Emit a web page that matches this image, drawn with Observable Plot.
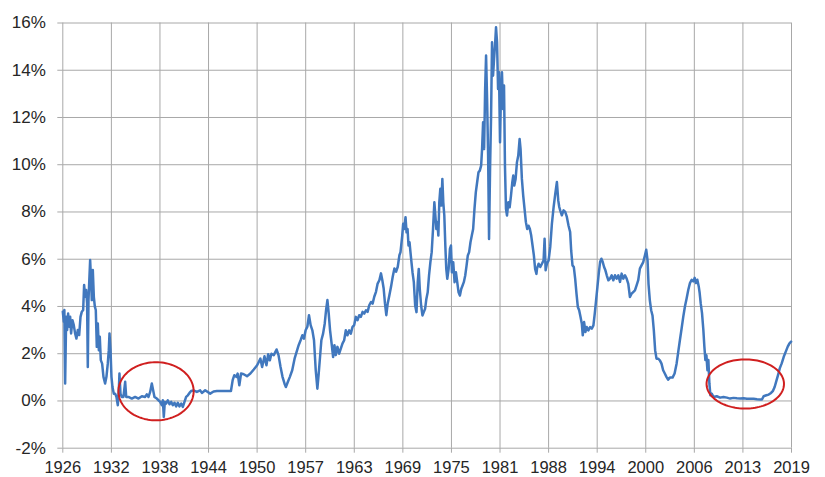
<!DOCTYPE html>
<html>
<head>
<meta charset="utf-8">
<script src="https://cdn.jsdelivr.net/npm/d3@7"></script>
<script src="https://cdn.jsdelivr.net/npm/@observablehq/plot@0.6"></script>
<style>
  html, body { margin: 0; padding: 0; background: #fff; }
  #chart { width: 825px; height: 477px; }
</style>
</head>
<body>
<div id="chart"></div>
<script>
// ---- Data (fractional year, yield in %) ----
const years = [
1926.0,1926.13,1926.2,1926.3,1926.43,1926.55,1926.68,1926.8,1926.94,1927.06,1927.23,1927.4,1927.57,1927.74,1927.91,1928.09,1928.26,1928.43,1928.6,1928.72,1928.85,1928.98,1929.1,1929.19,1929.28,1929.4,1929.49,1929.62,1929.7,1929.83,1929.96,1930.09,1930.21,1930.34,1930.47,1930.6,1930.72,1930.85,1931.02,1931.19,1931.4,1931.57,1931.74,1931.87,1931.96,1932.09,1932.21,1932.34,1932.51,1932.68,1932.85,1933.02,1933.15,1933.23,1933.36,1933.53,1933.74,1933.96,1934.09,1934.38,1934.81,1935.23,1935.66,1936.09,1936.51,1936.72,1936.94,1937.15,1937.36,1937.53,1937.7,1938.0,1938.21,1938.43,1938.64,1938.77,1938.89,1939.02,1939.19,1939.4,1939.62,1939.83,1940.04,1940.26,1940.47,1940.68,1940.89,1941.11,1941.32,1941.53,1941.74,1941.96,1942.17,1942.38,1942.68,1943.11,1943.53,
1943.75,1944.17,1944.81,1945.24,1945.67,1946.1,1946.74,1947.46,1947.68,1947.89,1948.15,1948.32,1948.53,1948.75,1949.09,1949.51,1949.94,1950.37,1950.8,1951.01,1951.22,1951.44,1951.74,1951.99,1952.21,1952.42,1952.63,1952.93,1953.28,1953.53,1953.79,1954.04,1954.3,1954.47,1954.73,1954.98,1955.28,1955.58,1955.84,1956.1,1956.35,1956.57,1956.78,1956.99,1957.21,1957.42,1957.63,1957.85,1958.06,1958.28,1958.49,1958.66,1958.83,1959.0,1959.22,1959.43,1959.6,1959.77,1959.94,1960.11,1960.33,1960.5,1960.67,1960.84,1961.05,1961.27,1961.48,1961.69,1961.91,1962.12,1962.33,1962.55,1962.76,1962.98,1963.19,1963.4,1963.62,1963.83,1964.04,1964.26,1964.47,1964.69,1964.9,1965.11,1965.33,1965.54,1965.75,1965.97,1966.18,1966.4,1966.61,1966.78,1966.95,1967.12,1967.29,1967.46,1967.68,1967.89,1968.1,1968.32,1968.53,1968.75,1968.96,
1969.1,1969.32,1969.44,1969.57,1969.74,1969.87,1970.0,1970.12,1970.25,1970.37,1970.5,1970.63,1970.8,1970.97,1971.14,1971.3,1971.43,1971.56,1971.73,1971.9,1972.07,1972.24,1972.4,1972.57,1972.74,1972.91,1973.08,1973.25,1973.42,1973.55,1973.67,1973.8,1973.93,1974.05,1974.18,1974.31,1974.44,1974.56,1974.69,1974.82,1974.94,1975.07,1975.24,1975.41,1975.54,1975.66,1975.83,1976.0,1976.17,1976.34,1976.51,1976.68,1976.85,1977.02,1977.18,1977.36,1977.53,1977.69,1977.86,1978.03,1978.2,1978.37,1978.54,1978.71,1978.88,1979.05,1979.22,1979.39,1979.51,1979.64,1979.77,1979.9,1980.02,1980.15,1980.28,1980.4,1980.53,1980.66,1980.78,1980.91,1981.04,1981.16,1981.29,1981.42,1981.55,1981.67,1981.8,1981.93,1982.05,1982.18,1982.31,1982.43,1982.56,1982.69,1982.86,1983.03,1983.2,1983.37,1983.49,1983.62,1983.79,1983.96,1984.13,1984.3,1984.42,1984.59,1984.76,1984.93,1985.1,1985.27,1985.44,1985.61,1985.78,1985.95,1986.12,1986.28,1986.45,
1986.52,1986.73,1986.94,1987.15,1987.36,1987.49,1987.62,1987.79,1988.0,1988.21,1988.42,1988.64,1988.85,1989.06,1989.23,1989.36,1989.48,1989.69,1989.91,1990.12,1990.33,1990.54,1990.75,1990.88,1991.05,1991.22,1991.39,1991.56,1991.73,1991.9,1992.07,1992.24,1992.36,1992.53,1992.7,1992.87,1993.08,1993.3,1993.51,1993.72,1993.89,1994.06,1994.23,1994.4,1994.57,1994.74,1994.91,1995.08,1995.25,1995.42,1995.63,1995.84,1996.05,1996.26,1996.47,1996.69,1996.9,1997.11,1997.32,1997.53,1997.75,1997.96,1998.17,1998.38,1998.59,1998.8,1999.02,1999.23,1999.44,1999.65,1999.86,2000.08,2000.29,2000.46,2000.63,2000.75,2000.92,2001.09,2001.26,2001.43,2001.6,2001.77,2001.98,2002.2,2002.41,2002.62,2002.83,2003.04,2003.25,
2003.48,2003.82,2004.08,2004.34,2004.55,2004.76,2004.98,2005.19,2005.4,2005.62,2005.83,2006.04,2006.26,2006.47,2006.64,2006.81,2006.98,2007.16,2007.28,2007.41,2007.58,2007.75,2007.88,2008.01,2008.14,2008.27,2008.39,2008.52,2008.65,2008.82,2009.04,2009.46,2009.89,2010.32,2010.75,2011.17,2011.6,2012.03,2012.46,2012.88,2013.31,2013.74,2014.16,2014.59,2015.02,2015.23,2015.44,2015.79,2016.09,2016.39,2016.64,2016.86,2017.07,2017.28,2017.5,2017.75,2018.01,2018.27,2018.52,2018.74,2018.95
];
const yields = [
3.78,3.35,3.85,0.74,3.56,3.0,3.7,3.14,3.56,2.86,3.42,3.21,2.86,2.64,3.0,2.79,3.56,3.78,3.85,4.91,4.41,4.7,4.13,1.44,4.27,5.26,5.97,4.98,4.27,5.54,4.41,3.99,3.85,2.29,3.28,2.15,2.72,1.73,1.58,1.02,0.74,1.02,1.58,2.15,2.86,2.15,1.02,0.59,0.31,0.31,0.17,-0.18,0.45,1.16,0.31,0.17,0.17,0.81,0.17,0.17,0.1,0.17,0.1,0.2,0.17,0.28,0.17,0.38,0.74,0.45,0.17,0.1,0.03,-0.04,-0.18,0.03,-0.68,-0.04,-0.11,0.03,-0.14,-0.04,-0.18,-0.08,-0.23,-0.08,-0.23,-0.11,-0.25,-0.04,0.17,0.24,0.34,0.42,0.45,0.38,0.45,
0.34,0.45,0.31,0.40,0.42,0.42,0.42,0.42,0.88,1.09,1.02,1.16,0.66,1.16,1.13,1.05,1.16,1.33,1.51,1.65,1.79,1.44,1.89,1.51,1.98,1.72,2.0,1.94,2.18,1.94,1.44,1.02,0.73,0.59,0.81,1.02,1.3,1.79,2.08,2.36,2.57,2.78,2.64,2.99,3.14,3.63,3.21,2.99,2.57,1.3,0.52,1.16,1.86,2.57,2.85,3.28,3.84,4.27,3.7,2.99,2.36,1.86,2.36,1.94,2.29,2.0,2.22,2.43,2.57,2.99,2.78,2.99,2.85,3.14,3.21,3.56,3.42,3.63,3.56,3.77,3.7,3.84,3.77,4.05,4.19,4.12,4.41,4.62,4.97,5.11,5.4,5.11,4.76,4.12,3.63,4.12,4.48,4.83,5.25,5.61,5.47,5.68,6.17,
6.3,7.0,7.5,7.28,7.78,7.14,7.28,6.58,6.72,6.3,5.87,5.45,5.03,4.04,3.76,5.03,5.59,4.74,4.04,3.62,3.76,3.9,4.32,4.6,5.31,5.87,6.3,7.28,8.41,7.85,7.28,7.57,7.0,8.41,8.98,8.27,9.4,8.41,7.85,6.58,5.59,5.17,5.59,6.44,6.58,5.45,5.87,5.03,5.45,5.03,4.6,4.46,4.74,4.89,5.03,5.31,5.73,6.16,6.3,6.72,7.0,7.28,8.13,8.83,9.26,9.68,9.75,9.96,10.67,11.8,10.67,13.21,14.62,12.78,10.39,6.86,9.82,12.08,15.18,13.77,14.48,15.04,15.82,15.18,13.21,13.91,10.95,13.21,13.91,12.36,13.35,9.96,8.13,7.85,8.41,8.2,8.69,9.26,9.54,9.12,9.4,10.1,10.39,11.09,10.67,9.4,8.69,8.13,7.57,7.28,7.42,7.28,7.0,6.58,6.16,5.59,5.38,
5.6,5.81,5.67,5.81,5.95,6.87,5.53,5.81,5.95,6.52,7.5,8.21,8.77,9.27,8.49,8.21,8.07,7.86,8.07,8.0,7.79,7.43,7.15,6.37,5.74,5.67,5.18,4.54,3.98,3.84,3.56,3.27,2.78,3.34,2.92,3.13,2.99,3.13,3.06,3.2,3.7,4.26,4.82,5.39,5.88,6.02,5.88,5.67,5.53,5.32,5.11,5.18,5.32,5.11,5.32,5.18,5.32,5.04,5.39,5.18,5.32,5.18,4.96,4.4,4.54,4.61,4.68,4.89,5.11,5.6,5.74,5.88,6.16,6.4,5.95,4.96,4.26,3.84,3.62,2.99,2.14,1.79,1.79,1.72,1.58,1.3,1.16,1.02,0.9,
0.99,0.99,1.16,1.59,2.09,2.58,3.08,3.57,4.0,4.35,4.71,4.99,5.13,5.06,5.21,4.99,5.13,4.85,4.57,4.14,3.72,3.01,2.3,1.73,1.94,1.3,1.73,0.74,0.24,0.31,0.17,0.2,0.14,0.17,0.14,0.1,0.13,0.11,0.1,0.11,0.09,0.09,0.09,0.07,0.06,0.06,0.2,0.24,0.27,0.34,0.43,0.6,0.85,1.09,1.38,1.59,1.87,2.09,2.3,2.44,2.51
];

// Axis tick labels (evenly spaced category-style labels)
const xTickLabels = ["1926","1932","1938","1944","1950","1957","1963","1969","1975","1981","1988","1994","2000","2006","2013","2019"];
const yTicks = [-2, 0, 2, 4, 6, 8, 10, 12, 14, 16];

// Highlight ellipses (centre year, centre %, radius in years, radius in %)
const highlightYear = [1937.9, 2013.1];
const highlightValue = [0.41, 0.72];
const highlightRx = [4.8, 4.94];
const highlightRy = [1.23, 1.04];

// ---- Build tables ----
const series = years.map((y, i) => ({year: y, value: yields[i]}));
const x0 = 1926, x1 = 2019;
const step = (x1 - x0) / (xTickLabels.length - 1);
const xTicks = xTickLabels.map((_, i) => x0 + i * step);
const labelFor = d => xTickLabels[Math.round((d - x0) / step)];

const ellipsePts = [];
highlightYear.forEach((cx, k) => {
  d3.range(0, 361, 3).forEach(a => {
    const t = a * Math.PI / 180;
    ellipsePts.push({id: k, year: cx + highlightRx[k] * Math.cos(t), value: highlightValue[k] + highlightRy[k] * Math.sin(t)});
  });
});

const gridColor = "#a8a8a8";

const chart = Plot.plot({
  width: 825,
  height: 477,
  marginLeft: 62.3,
  marginRight: 34,
  marginTop: 22.5,
  marginBottom: 29.3,
  style: {fontFamily: "'Liberation Sans', Arial, sans-serif", fontSize: "17px", color: "#262626", background: "#fff", overflow: "visible"},
  x: {domain: [x0, x1]},
  y: {domain: [-2, 16]},
  marks: [
    Plot.gridX(xTicks, {stroke: gridColor, strokeOpacity: 1, strokeWidth: 1}),
    Plot.gridY(yTicks, {stroke: gridColor, strokeOpacity: 1, strokeWidth: 1}),
    Plot.axisX(xTicks, {tickSize: 5, tickPadding: 8, stroke: gridColor, fill: "#262626", fontSize: 16.5, tickFormat: labelFor, label: null}),
    Plot.axisY(yTicks, {tickSize: 5, tickPadding: 12, stroke: gridColor, fill: "#262626", fontSize: 17, tickFormat: d => `${d}%`, label: null}),
    Plot.line(series, {x: "year", y: "value", stroke: "#4178be", strokeWidth: 2.5, strokeLinejoin: "round"}),
    Plot.line(ellipsePts, {x: "year", y: "value", z: "id", stroke: "#d01f1f", strokeWidth: 2, curve: "linear"})
  ]
});
document.getElementById("chart").appendChild(chart);
</script>
</body>
</html>
